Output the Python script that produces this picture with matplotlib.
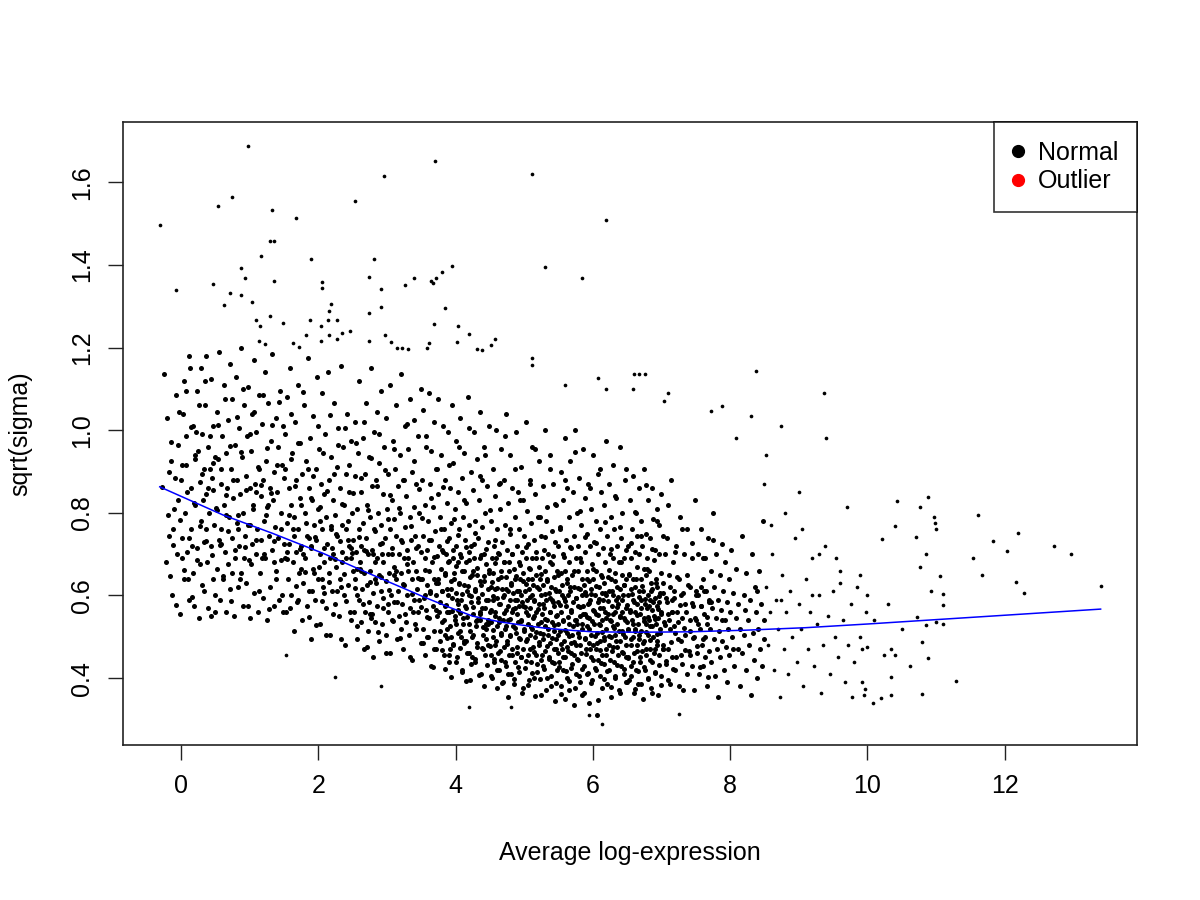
import matplotlib.pyplot as plt
from matplotlib.lines import Line2D

plt.rcParams['font.family'] = ['Liberation Sans', 'DejaVu Sans']

# points, stored as (x*100, y*1000)
cloud_a = [(-28,862),(-25,1135),(-22,680),(-20,1030),(-18,745),(-15,925),(-13,602),(-10,810),(-8,1085),(-6,700),(-4,965),(-2,555),(0,880),(1,740),(3,1040),(4,640),(6,800),(8,985),(9,705),(11,1180),(12,590),(14,860),(15,760),(17,1010),(18,655),(20,930),(21,820),(23,715),(24,1095),(26,545),(27,875),(29,780),(30,990),(31,625),(33,905),(34,730),(35,1060),(36,845),(38,680),(39,960),(40,570),(41,800),(43,1125),(44,720),(45,885),(46,640),(47,1010),(48,770),(49,935),(50,600),(-12,760),(-5,830),(2,690),(7,915),(13,1150),(19,575),(22,995),(28,675),(32,830),(37,1180),(42,905),(16,720),(25,950),(10,640),(-17,900),(5,1120),(44,550),(36,760),(29,1150),(47,855)]

cloud_b = [(51,812),(52,1045),(53,665),(54,930),(55,735),(56,1190),(57,590),(58,870),(59,760),(60,985),(61,640),(62,1110),(63,820),(64,705),(65,945),(66,560),(67,860),(68,1025),(69,675),(70,790),(71,1160),(72,615),(73,905),(74,740),(75,1075),(76,835),(77,550),(78,965),(79,690),(80,1130),(81,775),(82,880),(83,620),(84,1005),(85,720),(86,845),(87,1200),(88,655),(89,935),(90,800),(91,575),(92,1060),(93,745),(94,890),(95,630),(96,985),(97,770),(98,1105),(99,685),(100,860),(101,545),(102,950),(103,725),(104,1040),(105,810),(106,605),(107,1170),(108,870),(109,700),(110,995),(111,760),(112,560),(113,905),(114,1085),(115,655),(116,840),(117,735),(118,1015),(119,595),(120,880),(121,780),(122,1140),(123,690),(124,925),(125,815),(126,540),(127,1065),(128,745),(129,860),(130,620),(131,975),(132,710),(133,1185),(134,830),(135,575),(136,900),(137,765),(138,1030),(139,660),(140,850),(141,740),(142,960),(143,590),(144,1095),(145,800),(146,685),(147,915),(148,560),(149,1010),(150,725),(58,725),(66,795),(74,655),(83,760),(92,690),(101,770),(109,850),(118,690),(127,820),(136,680)]

cloud_c = [(151,690),(152,905),(153,560),(154,1080),(155,775),(156,640),(157,860),(158,725),(159,1150),(160,600),(161,820),(162,945),(163,680),(164,515),(165,790),(166,1020),(167,705),(168,880),(169,585),(170,760),(171,1110),(172,655),(173,835),(174,970),(175,720),(176,540),(177,895),(178,630),(179,1060),(180,800),(181,690),(182,925),(183,575),(184,745),(185,1175),(186,860),(187,610),(188,980),(189,715),(190,495),(191,830),(192,665),(193,1035),(194,770),(195,590),(196,905),(197,735),(198,1130),(199,640),(200,810),(201,955),(202,700),(203,530),(204,870),(205,760),(206,1090),(207,620),(208,845),(209,680),(210,990),(211,570),(212,790),(213,725),(214,1140),(215,655),(216,880),(217,505),(218,760),(219,935),(220,610),(221,830),(222,700),(223,1065),(224,580),(225,795),(226,670),(227,910),(228,745),(229,1005),(230,550),(231,860),(232,640),(233,1155),(234,770),(235,705),(236,960),(237,600),(238,820),(239,480),(240,895),(241,690),(242,1040),(243,735),(244,625),(245,850),(246,560),(247,975),(248,715),(249,800),(250,660),(155,705),(163,760),(171,590),(178,700),(186,740),(194,655),(202,780),(209,605),(217,690),(226,750),(233,620),(241,760),(247,690),(160,930),(175,665),(190,720),(205,640),(220,715),(235,680),(245,720)]

cloud_d = [(251,735),(252,560),(253,890),(253,640),(254,1020),(255,705),(256,495),(256,810),(257,665),(258,945),(259,590),(259,760),(260,1120),(261,680),(262,535),(262,850),(263,720),(264,615),(265,980),(265,775),(266,470),(267,655),(268,895),(268,560),(269,740),(270,1065),(271,625),(271,820),(272,515),(273,700),(274,935),(274,585),(275,790),(276,660),(277,1150),(277,545),(278,865),(279,710),(280,450),(280,605),(281,995),(282,755),(283,640),(283,535),(284,880),(285,690),(286,1045),(286,575),(287,800),(288,650),(289,490),(289,920),(290,725),(291,610),(292,1095),(292,770),(293,530),(294,845),(295,680),(295,595),(296,960),(297,740),(298,505),(298,635),(299,1030),(300,810),(301,700),(301,560),(302,895),(303,655),(304,460),(304,760),(305,1110),(306,600),(307,830),(307,715),(308,540),(309,975),(310,670),(310,785),(311,585),(312,905),(313,640),(313,1060),(314,745),(315,495),(316,865),(316,610),(317,700),(318,550),(319,940),(319,800),(320,655),(321,1135),(322,730),(322,580),(323,470),(324,880),(325,690),(325,625),(326,1010),(327,765),(328,535),(328,840),(329,600),(330,710),(331,955),(331,660),(332,505),(333,790),(334,1075),(334,570),(335,735),(336,640),(337,900),(337,445),(338,680),(339,815),(340,590),(340,1025),(341,745),(342,520),(343,870),(343,660),(344,615),(345,985),(346,720),(346,560),(347,800),(348,640),(349,1100),(349,485),(350,705),(257,600),(266,710),(275,555),(284,630),(293,700),(302,580),(311,650),(320,520),(329,675),(338,560),(347,590),(262,660),(280,700)]

cloud_e = [(351,640),(351,880),(352,520),(353,745),(353,1050),(354,595),(355,690),(355,455),(356,820),(357,565),(357,960),(358,710),(359,625),(359,500),(360,780),(361,1090),(361,660),(362,545),(363,870),(363,605),(364,735),(365,430),(365,950),(366,680),(367,575),(367,815),(368,640),(369,1020),(369,515),(370,755),(371,600),(371,905),(372,470),(373,695),(373,550),(374,845),(375,630),(375,1075),(376,720),(377,490),(377,585),(378,790),(379,665),(379,940),(380,535),(381,710),(381,610),(382,1010),(383,455),(383,760),(384,650),(385,575),(385,880),(386,700),(387,520),(387,825),(388,615),(389,995),(389,680),(390,440),(391,740),(391,560),(392,860),(393,635),(393,500),(394,775),(395,1060),(395,595),(396,690),(397,480),(397,920),(398,655),(399,540),(399,810),(400,720),(401,605),(401,975),(402,450),(403,680),(403,565),(404,850),(405,630),(405,760),(406,515),(407,1030),(407,700),(408,590),(409,420),(409,885),(410,660),(411,545),(411,790),(412,625),(413,945),(413,485),(414,735),(415,570),(415,680),(416,825),(417,460),(417,610),(418,1080),(419,705),(419,530),(420,770),(421,645),(421,395),(422,900),(423,585),(423,720),(424,500),(425,660),(425,855),(426,555),(427,995),(427,690),(428,440),(429,615),(429,780),(430,525),(431,930),(431,650),(432,475),(433,740),(433,595),(434,830),(435,540),(435,690),(436,1045),(437,625),(437,410),(438,765),(439,570),(439,880),(440,505),(441,700),(441,635),(442,960),(443,455),(443,800),(444,590),(445,675),(445,530),(446,865),(447,615),(447,730),(448,480),(449,1010),(449,655),(450,560),(360,500),(368,470),(376,560),(384,505),(392,470),(400,530),(408,500),(416,490),(424,450),(432,540),(440,470),(448,530),(356,600),(372,630),(388,560),(404,580),(420,600),(436,560),(444,520)]

cloud_f = [(451,620),(451,455),(452,780),(452,535),(453,690),(453,400),(454,590),(454,905),(455,500),(455,655),(456,720),(456,440),(457,560),(457,840),(458,615),(458,480),(459,1000),(459,690),(460,525),(460,375),(461,760),(461,595),(462,460),(462,640),(463,870),(463,545),(464,700),(464,420),(465,580),(465,810),(466,505),(466,660),(467,955),(467,445),(468,615),(468,730),(469,540),(469,390),(470,680),(470,475),(471,880),(471,600),(472,520),(472,770),(473,645),(473,430),(474,565),(474,1040),(475,710),(475,490),(476,610),(476,355),(477,825),(477,540),(478,680),(478,455),(479,590),(479,750),(480,505),(480,940),(481,630),(481,410),(482,560),(482,700),(483,470),(483,860),(484,605),(484,525),(485,665),(485,385),(486,790),(486,570),(487,440),(487,640),(488,995),(488,510),(489,720),(489,590),(490,460),(490,610),(491,850),(491,535),(492,680),(492,415),(493,575),(493,760),(494,495),(494,640),(495,910),(495,450),(496,600),(496,540),(497,705),(497,365),(498,830),(498,575),(499,470),(499,655),(500,520),(500,745),(501,610),(501,425),(502,1020),(502,560),(503,690),(503,490),(504,590),(504,805),(505,455),(505,640),(506,530),(506,725),(507,395),(507,615),(508,880),(508,505),(509,665),(509,570),(510,440),(510,775),(511,600),(511,520),(512,690),(512,960),(513,475),(513,625),(514,550),(514,400),(515,735),(515,590),(516,500),(516,845),(517,650),(517,455),(518,560),(518,705),(519,415),(519,620),(520,790),(520,530),(521,670),(521,480),(522,580),(522,925),(523,510),(523,640),(524,445),(524,745),(525,600),(525,360),(526,555),(526,690),(527,865),(527,495),(528,625),(528,430),(529,710),(529,570),(530,525),(530,1000),(531,660),(531,465),(532,590),(532,780),(533,400),(533,540),(534,640),(534,815),(535,505),(535,700),(536,450),(536,605),(537,560),(537,940),(538,680),(538,485),(539,620),(539,380),(540,755),(540,535),(541,590),(541,440),(542,695),(542,870),(543,515),(543,645),(544,470),(544,575),(545,730),(545,345),(546,610),(546,550),(547,820),(547,495),(548,660),(548,420),(549,585),(549,720),(550,530),(550,460)]

cloud_g = [(551,610),(551,440),(552,515),(552,760),(553,655),(553,380),(554,560),(554,900),(555,470),(555,625),(556,700),(556,420),(557,540),(557,830),(558,595),(558,490),(559,980),(559,660),(560,450),(560,350),(561,735),(561,575),(562,510),(562,640),(563,860),(563,400),(564,600),(564,465),(565,680),(565,790),(566,530),(566,370),(567,925),(567,620),(568,485),(568,715),(569,560),(569,425),(570,650),(570,505),(571,850),(571,585),(572,455),(572,745),(573,620),(573,335),(574,540),(574,1000),(575,690),(575,480),(576,595),(576,410),(577,800),(577,530),(578,660),(578,445),(579,575),(579,720),(580,500),(580,885),(581,615),(581,390),(582,550),(582,690),(583,460),(583,770),(584,600),(584,520),(585,640),(585,360),(586,955),(586,575),(587,430),(587,625),(588,835),(588,495),(589,705),(589,555),(590,470),(590,600),(591,750),(591,410),(592,660),(592,525),(593,580),(593,870),(594,485),(594,635),(595,545),(595,340),(596,720),(596,590),(597,450),(597,810),(598,615),(598,505),(599,675),(599,395),(600,565),(600,940),(601,480),(601,640),(602,530),(602,730),(603,600),(603,425),(604,780),(604,555),(605,470),(605,660),(606,510),(606,310),(607,895),(607,585),(608,445),(608,700),(609,620),(609,530),(610,405),(610,760),(611,570),(611,490),(612,650),(612,850),(613,455),(613,605),(614,540),(614,375),(615,715),(615,590),(616,500),(616,820),(617,630),(617,435),(618,560),(618,680),(619,470),(619,975),(620,600),(620,520),(621,745),(621,385),(622,645),(622,555),(623,480),(623,870),(624,610),(624,420),(625,540),(625,700),(626,500),(626,790),(627,640),(627,355),(628,575),(628,465),(629,690),(629,525),(630,915),(630,600),(631,440),(631,760),(632,560),(632,505),(633,655),(633,400),(634,590),(634,835),(635,475),(635,620),(636,530),(636,720),(637,455),(637,580),(638,680),(638,370),(639,550),(639,960),(640,615),(640,490),(641,740),(641,430),(642,560),(642,650),(643,515),(643,800),(644,600),(644,460),(645,690),(645,545),(646,410),(646,625),(647,880),(647,500),(648,570),(648,710),(649,450),(649,640),(650,535),(650,390)]

cloud_h = [(651,600),(651,450),(652,720),(652,520),(653,650),(653,395),(654,565),(654,830),(655,480),(655,615),(656,690),(656,430),(657,540),(657,760),(658,590),(658,500),(659,890),(659,640),(660,460),(660,365),(661,705),(661,560),(662,515),(662,620),(663,800),(663,420),(664,580),(664,480),(665,670),(665,745),(666,530),(666,385),(667,860),(667,610),(668,495),(668,700),(669,555),(669,440),(670,640),(670,515),(671,780),(671,590),(672,465),(672,720),(673,610),(673,350),(674,545),(674,905),(675,665),(675,490),(676,580),(676,420),(677,750),(677,530),(678,650),(678,455),(679,570),(679,690),(680,505),(680,830),(681,600),(681,400),(682,540),(682,660),(683,470),(683,740),(684,590),(684,525),(685,630),(685,375),(686,860),(686,565),(687,440),(687,615),(688,785),(688,500),(689,685),(689,550),(690,470),(690,595),(691,710),(691,415),(692,640),(692,530),(693,575),(693,810),(694,490),(694,620),(695,545),(695,360),(696,700),(696,585),(697,455),(697,770),(698,605),(698,510),(699,655),(699,405),(700,560),(700,845),(702,480),(703,630),(704,535),(705,700),(706,595),(707,435),(708,740),(709,555),(710,470),(711,650),(712,520),(713,385),(714,880),(715,590),(716,450),(717,680),(718,610),(719,525),(720,420),(722,720),(723,560),(724,495),(725,640),(727,790),(728,455),(729,600),(730,545),(732,370),(733,700),(734,580),(735,505),(737,650),(738,760),(740,465),(741,620),(742,540),(744,430),(745,690),(746,575),(748,500),(749,830),(750,610),(703,470),(716,560)]

cloud_i = [(751,540),(752,460),(753,700),(754,600),(755,410),(756,520),(757,760),(758,575),(759,480),(760,640),(761,430),(762,555),(763,690),(764,500),(765,610),(766,380),(767,530),(768,740),(769,465),(770,590),(771,520),(772,660),(773,440),(774,570),(775,800),(776,495),(777,620),(778,405),(779,545),(780,700),(781,470),(782,590),(783,355),(784,515),(785,650),(786,450),(787,565),(788,725),(789,490),(790,610),(791,420),(792,540),(793,680),(794,475),(795,585),(796,390),(797,520),(798,640),(799,455),(800,560),(802,710),(803,500),(805,605),(806,430),(808,545),(809,665),(811,470),(812,580),(814,380),(815,520),(817,745),(818,460),(820,600),(821,505),(823,420),(824,655),(826,540),(827,480),(829,590),(830,360),(832,700),(833,510),(835,445),(836,620),(838,560),(839,400),(841,520),(842,660),(844,470),(845,580),(847,430),(848,780),(849,540),(850,495),(757,620),(773,585),(789,540),(805,470),(822,565),(840,610)]

cloud_j = [(852,620),(855,480),(858,560),(861,700),(864,420),(867,590),(870,520),(873,355),(876,650),(879,470),(882,560),(885,410),(888,610),(891,500),(894,740),(897,440),(900,580),(903,520),(907,380),(910,640),(913,470),(916,560),(920,690),(923,430),(926,530),(929,600),(933,365),(936,480),(939,720),(943,550),(946,410),(950,610),(953,500),(957,450),(960,660),(964,540),(968,390),(972,480),(976,580),(980,440),(985,620),(990,500),(995,360),(998,560),(874,590),
           (850,870),(880,800),(905,760),(930,700),(955,690),(900,850),(860,770),(920,600),(960,630),(1000,600),(1030,580),(990,650),(1010,540),(1050,520)]

# extra points filling the dense core (x 3.8 - 7.7)
core_1 = [(380,612),(381,468),(382,705),(383,540),(384,423),(385,655),(386,578),(387,497),(388,731),(389,602),(390,455),(391,684),(392,526),(393,615),(394,402),(395,563),(396,709),(397,482),(398,640),(399,551),(400,438),(401,672),(402,589),(403,510),(404,746),(405,627),(406,474),(407,558),(408,693),(409,415),(410,604),(411,532),(412,660),(413,490),(414,575),(415,392),(416,718),(417,547),(418,623),(419,461),(420,686),(421,515),(422,598),(423,433),(424,650),(425,572),(426,505),(427,724),(428,447),(429,611),(430,538),(431,667),(432,486),(433,585),(434,408),(435,635),(436,556),(437,699),(438,472),(439,604),(440,523),(441,381),(442,648),(443,569),(444,495),(445,712),(446,431),(447,590),(448,541),(449,661),(450,478),(451,566),(452,404),(453,632),(454,517),(455,598),(456,446),(457,679),(458,551),(459,491),(460,617),(461,420),(462,703),(463,536),(464,580),(465,465),(466,644),(467,509),(468,388),(469,597),(470,558),(471,682),(472,440),(473,527),(474,615),(475,483),(476,575),(477,411),(478,659),(479,544),(480,502),(481,626),(482,455),(483,700),(484,567),(485,398),(486,589),(487,521),(488,646),(489,476),(490,555),(491,427),(492,611),(493,498),(494,673),(495,539),(496,452),(497,584),(498,375),(499,634),(500,513)]

core_2 = [(501,572),(502,441),(503,628),(504,495),(505,383),(506,553),(507,667),(508,470),(509,597),(510,524),(511,412),(512,641),(513,546),(514,462),(515,587),(516,357),(517,511),(518,690),(519,433),(520,568),(521,487),(522,616),(523,398),(524,535),(525,652),(526,455),(527,579),(528,506),(529,421),(530,603),(531,544),(532,372),(533,478),(534,636),(535,520),(536,446),(537,593),(538,561),(539,406),(540,676),(541,497),(542,583),(543,437),(544,528),(545,615),(546,389),(547,470),(548,552),(549,649),(550,505),(551,426),(552,578),(553,483),(554,362),(555,601),(556,538),(557,451),(558,694),(559,517),(560,586),(561,417),(562,475),(563,631),(564,549),(565,393),(566,503),(567,612),(568,461),(569,564),(570,434),(571,527),(572,659),(573,488),(574,377),(575,594),(576,541),(577,446),(578,618),(579,509),(580,405),(581,573),(582,481),(583,681),(584,530),(585,423),(586,556),(587,365),(588,609),(589,496),(590,459),(591,640),(592,547),(593,412),(594,582),(595,518),(596,471),(597,603),(598,387),(599,537),(600,665),(601,443),(602,562),(603,503),(604,419),(605,623),(606,486),(607,552),(608,346),(609,591),(610,468),(611,529),(612,437),(613,644),(614,511),(615,569),(616,397),(617,492),(618,606),(619,455),(620,546)]

core_3 = [(621,418),(622,587),(623,502),(624,661),(625,444),(626,539),(627,378),(628,612),(629,475),(630,556),(631,521),(632,404),(633,634),(634,489),(635,572),(636,431),(637,597),(638,514),(639,365),(640,548),(641,681),(642,462),(643,590),(644,507),(645,423),(646,626),(647,541),(648,481),(649,391),(650,578),(651,516),(652,449),(653,653),(654,560),(655,404),(656,495),(657,603),(658,532),(659,438),(660,584),(661,373),(662,519),(663,640),(664,466),(665,553),(666,417),(667,596),(668,504),(669,452),(670,569),(671,386),(672,622),(673,485),(674,538),(675,428),(676,592),(677,511),(678,471),(679,664),(680,549),(681,399),(682,574),(683,492),(684,445),(685,611),(686,525),(687,363),(688,583),(689,461),(690,544),(691,412),(692,631),(693,506),(694,479),(695,567),(696,432),(697,598),(698,518),(699,384),(700,556),(702,471),(703,607),(705,528),(706,442),(708,583),(709,396),(711,541),(712,620),(714,487),(715,561),(717,423),(718,593),(720,508),(721,452),(723,645),(724,535),(726,381),(727,577),(729,491),(730,434),(732,605),(733,522),(735,468),(736,559),(738,410),(739,626),(741,513),(742,456),(744,581),(746,497),(747,372),(749,546),(750,602),(752,478),(754,530),(756,427),(758,575),(760,495),(762,612),(764,452),(766,547),(768,402),(770,583)]

# extra points for the left and upper part of the cloud
mid_1 = [(-19,795),(-16,648),(-14,972),(-11,721),(-9,884),(-7,576),(-3,1043),(-1,783),(2,917),(5,662),(7,1096),(9,850),(12,739),(14,1008),(16,597),(19,823),(21,941),(24,687),(26,1062),(28,768),(31,895),(33,612),(35,1118),(37,733),(40,860),(42,987),(45,698),(47,920),(49,561),(52,806),(54,1012),(57,721),(59,905),(61,648),(64,1075),(66,842),(69,755),(71,962),(73,586),(76,880),(78,709),(81,1033),(83,795),(86,640),(88,948),(90,1101),(93,717),(95,856),(97,574),(100,990),(102,675),(105,820),(107,1045),(109,735),(112,912),(114,612),(117,868),(119,1086),(121,700),(124,796),(126,958),(128,568),(131,848),(133,1012),(136,733),(138,640),(140,915),(143,1068),(145,762),(147,602),(150,884),(152,990),(154,688),(157,795),(159,570),(161,1039),(164,745),(166,865),(168,622),(171,970),(173,712),(175,820),(178,1092),(180,658),(182,775),(185,907),(187,548),(189,835)]

mid_2 = [(191,612),(193,890),(195,742),(197,528),(199,1010),(201,669),(203,815),(205,586),(207,944),(209,716),(211,505),(213,853),(215,633),(217,1038),(219,767),(221,556),(223,895),(225,688),(227,610),(229,965),(231,731),(233,494),(235,822),(237,652),(239,1005),(241,587),(243,780),(245,915),(247,541),(249,702),(251,848),(253,617),(255,970),(257,526),(259,742),(261,665),(263,884),(265,580),(267,1020),(269,708),(271,476),(273,806),(275,632),(277,933),(279,555),(281,760),(283,682),(285,865),(287,512),(289,990),(291,645),(293,728),(295,569),(297,904),(299,461),(301,786),(303,613),(305,842),(307,700),(309,539),(311,955),(313,660),(315,583),(317,812),(319,498),(321,734),(323,627),(325,880),(327,556),(329,1015),(331,690),(333,451),(335,768),(337,604),(339,925),(341,530),(343,716),(345,642),(347,858),(349,573),(351,787),(353,486),(355,662),(357,985),(359,548),(361,735),(363,611),(365,836),(367,426),(369,692),(371,566),(373,905),(375,640),(377,515),(379,760)]

upper_mid = [(382,862),(390,915),(398,785),(405,960),(412,830),(420,1005),(428,752),(435,890),(443,940),(450,808),(458,735),(465,872),(472,985),(480,760),(487,905),(494,830),(502,718),(509,870),(516,955),(523,790),(531,742),(538,905),(545,822),(552,765),(560,880),(567,718),(574,948),(582,805),(589,742),(596,860),(604,726),(611,905),(618,778),(626,712),(633,840),(640,765),(648,905),(655,728),(662,802),(670,745),(678,868),(686,712),(694,780),(702,745),(710,820),(720,705),(730,760),(745,728),(760,690),(775,735)]

high_points = [(97,1688),(370,1651),(296,1616),(254,1556),(75,1564),(54,1543),(-30,1496),(132,1532),(168,1514),(129,1457),(135,1457),(117,1421),(189,1414),(281,1414),(395,1397),(381,1382),(371,1369),(365,1361),(367,1357),(339,1368),(327,1351),(274,1370),(292,1341),(292,1298),(384,1297),(368,1256),(404,1252),(420,1232),(458,1220),(451,1206),(87,1392),(93,1369),(135,1361),(205,1360),(205,1345),(46,1353),(-8,1340),(72,1331),(88,1327),(104,1311),(62,1302),(219,1305),(216,1289),(129,1276),(109,1266),(115,1252),(149,1259),(188,1268),(214,1268),(227,1268),(204,1252),(182,1230),(216,1231),(227,1221),(234,1236),(246,1239),(274,1284),(274,1217),(297,1231),(114,1216),(123,1209),(204,1215),(163,1212),(172,1201),(306,1213),(315,1200),(322,1198),(331,1197),(361,1211),(358,1198),(402,1213),(432,1197),(439,1194),
               (511,1620),(620,1509),(531,1395),(585,1369),(511,1174),(511,1159),(838,1144),(937,1089),(660,1135),(667,1135),(676,1135),(608,1126),(710,1091),(704,1070),(773,1046),(789,1058),(831,1034),(560,1110),(619,1100),(658,1099),(971,813),(940,980),(874,1011),(852,940),(808,980)]

far_points = [(1340,622),(1297,701),(1272,720),(1220,752),(1203,708),(1183,731),(1161,795),(1154,690),(1167,649),(1217,632),(1229,605),(1129,392),(1089,838),(1077,814),(1043,828),(1097,791),(1098,776),(1100,760),(1071,741),(1040,767),(1022,736),(1086,700),(1077,668),(1106,646),(1093,611),(1111,603),(1111,576),(1072,548),(1100,535),(1085,528),(1110,530),(1080,488),(1088,448),(1080,361),(1062,430),(1035,402),(1035,360),(1020,352),(1009,339),(977,354),(992,390),(997,373),(1035,470),(1025,455),(1040,455),(993,470),(1000,475)]

low_points = [(420,329),(481,331),(291,381),(225,403),(153,455),(614,290),(725,314),(594,310)]

# loess trend
trend_x = [-0.31, 0.61, 1.34, 2.07, 2.80, 3.53, 3.90, 4.25, 4.65, 4.98, 5.30, 5.66, 6.00, 6.67, 7.40, 8.23, 9.10, 10.01, 11.80, 13.40]
trend_y = [0.863, 0.795, 0.750, 0.702, 0.649, 0.597, 0.572, 0.550, 0.536, 0.528, 0.521, 0.516, 0.512, 0.511, 0.512, 0.516, 0.522, 0.531, 0.550, 0.567]

x_ticks = [0, 2, 4, 6, 8, 10, 12]
y_ticks = [0.4, 0.6, 0.8, 1.0, 1.2, 1.4, 1.6]

dense = (cloud_a + cloud_b + cloud_c + cloud_d + cloud_e + cloud_f + cloud_g
         + cloud_h + cloud_i + core_1 + core_2 + core_3 + mid_1 + mid_2 + upper_mid)
sparse = cloud_j + high_points + far_points + low_points

fig = plt.figure(figsize=(12, 9), dpi=100)
ax = fig.add_axes([0.1025, 0.1722, 0.845, 0.6922])

# dense part drawn a bit larger so the crowded middle reads as dark as the original
ax.scatter([p[0] / 100 for p in dense], [p[1] / 1000 for p in dense],
           s=13, c='black', marker='o', linewidths=0)
ax.scatter([p[0] / 100 for p in sparse], [p[1] / 1000 for p in sparse],
           s=7, c='black', marker='o', linewidths=0)
ax.plot(trend_x, trend_y, color='blue', lw=1.1)

ax.set_xlim(-0.845, 13.93)
ax.set_ylim(0.238, 1.746)
ax.set_xticks(x_ticks)
ax.set_xticklabels([str(t) for t in x_ticks])
ax.set_yticks(y_ticks)
ax.set_yticklabels([f"{t:.1f}" for t in y_ticks], rotation=90, va='center')
ax.tick_params(length=10.8, width=1, labelsize=18, pad=10, color='#222222')
for sp in ax.spines.values():
    sp.set_linewidth(1.2)
    sp.set_color('#222222')

fig.text(0.525, 0.052, "Average log-expression", ha='center', va='center', fontsize=18)
fig.text(0.017, 0.518, "sqrt(sigma)", ha='center', va='center', rotation=90, fontsize=18)

handles = [Line2D([], [], ls='none', marker='o', ms=8.5, color='black'),
           Line2D([], [], ls='none', marker='o', ms=8.5, color='red')]
leg = ax.legend(handles, ["Normal", "Outlier"], loc='upper right', bbox_to_anchor=(1, 1),
                borderaxespad=0, fontsize=18, frameon=True, fancybox=False,
                borderpad=0.75, labelspacing=0.18, handlelength=0.4, handletextpad=0.6)
leg.get_frame().set_edgecolor('black')
leg.get_frame().set_linewidth(1.2)

fig.savefig("out.png", dpi=100)
